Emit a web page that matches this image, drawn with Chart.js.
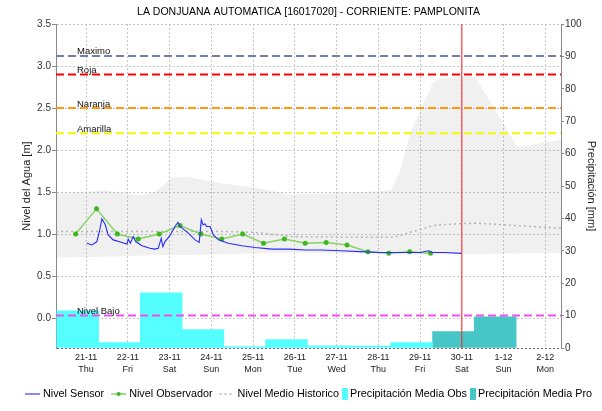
<!DOCTYPE html>
<html>
<head>
<meta charset="utf-8">
<script src="https://cdn.jsdelivr.net/npm/chart.js@4.4.1/dist/chart.umd.min.js"></script>
<style>
  html, body { margin: 0; padding: 0; background: #fff; }
  canvas { display: block; }
</style>
</head>
<body>
<canvas id="chart" width="602" height="411"></canvas>
<script>
// x axis is in days, 0 = 21-11 00:00
const DATES = ['21-11', '22-11', '23-11', '24-11', '25-11', '26-11', '27-11', '28-11', '29-11', '30-11', '1-12', '2-12'];
const WEEKDAYS = ['Thu', 'Fri', 'Sat', 'Sun', 'Mon', 'Tue', 'Wed', 'Thu', 'Fri', 'Sat', 'Sun', 'Mon'];
const LEVEL_TICKS = [0, 0.5, 1, 1.5, 2, 2.5, 3, 3.5];

// Nivel Sensor [m]
const SENSOR_T = [0.02, 0.14, 0.26, 0.32, 0.38, 0.46, 0.53, 0.65, 0.86, 0.98,
  1.01, 1.06, 1.13, 1.19, 1.34, 1.53, 1.65, 1.73, 1.80, 1.84,
  1.89, 2.01, 2.13, 2.20, 2.25, 2.45, 2.61, 2.71, 2.76, 2.80,
  2.85, 2.89, 2.97, 3.05, 3.17, 3.41, 3.73, 4.05, 4.45, 4.85,
  5.25, 5.61, 6.09, 6.57, 7.05, 7.52, 8.00, 8.20, 8.29, 8.60, 8.99];
const SENSOR_M = [0.89, 0.87, 0.91, 1.03, 1.18, 1.11, 0.99, 0.93, 0.90, 0.88,
  0.94, 0.89, 0.97, 0.91, 0.86, 0.83, 0.82, 0.83, 0.95, 0.85,
  0.91, 0.98, 1.09, 1.14, 1.09, 1.01, 0.93, 0.90, 1.17, 1.11,
  1.12, 1.09, 1.09, 0.99, 0.93, 0.89, 0.86, 0.84, 0.82, 0.82,
  0.81, 0.81, 0.80, 0.79, 0.78, 0.78, 0.78, 0.80, 0.78, 0.78, 0.77];

// Nivel Observador [m], two readings a day
const OBS_T = [-0.25, 0.25, 0.75, 1.25, 1.75, 2.25, 2.75, 3.25, 3.75, 4.25, 4.75, 5.25, 5.75, 6.25, 6.75, 7.25, 7.75, 8.25];
const OBS_M = [1.00, 1.30, 1.00, 0.94, 1.00, 1.10, 1.00, 0.94, 1.00, 0.89, 0.94, 0.89, 0.90, 0.87, 0.79, 0.77, 0.79, 0.77];

// historical band and mean [m]
const HIST_T = [-0.72, 0.45, 1.25, 1.65, 2.06, 2.44, 3.26, 4.05, 4.9, 6.33, 7.3, 7.52, 7.76, 8.32, 8.48, 9.32, 10.33, 11.375];
const HIST_MAX = [1.48, 1.52, 1.46, 1.50, 1.67, 1.68, 1.60, 1.55, 1.47, 1.49, 1.52, 1.75, 2.20, 2.81, 2.85, 2.87, 2.04, 2.12];
const HIST_MIN = [0.72, 0.73, 0.74, 0.75, 0.75, 0.75, 0.76, 0.77, 0.78, 0.77, 0.76, 0.76, 0.76, 0.76, 0.76, 0.76, 0.77, 0.77];
const HIST_MEAN = [1.03, 1.03, 1.03, 1.03, 1.03, 1.03, 1.03, 1.02, 0.97, 0.96, 0.96, 0.98, 1.02, 1.10, 1.11, 1.13, 1.10, 1.07];

// daily rain [mm], bar centred on the 07:00-07:00 period
const RAIN_OBS_T = [-0.2, 0.8, 1.8, 2.8, 3.8, 4.8, 5.8, 6.8, 7.8];
const RAIN_OBS_MM = [11.5, 1.7, 17.0, 5.7, 0.4, 2.6, 0.7, 0.6, 1.7];
const RAIN_PRO_T = [8.8, 9.8];
const RAIN_PRO_MM = [5.1, 9.6];

// alert levels [m]
const LEVEL_NAMES = ['Maximo', 'Roja', 'Naranja', 'Amarilla', 'Nivel Bajo'];
const LEVEL_VALUES = [3.12, 2.90, 2.50, 2.20, 0.03];
const LEVEL_COLORS = ['#7080a8', '#ff0000', '#ff9a10', '#f8f800', '#f050f0'];

const NOW_DAY = 9;

const X_MIN = -0.72, X_MAX = 11.375;
const Y_MIN = -0.357, Y_MAX = 3.5;

const FONT = '"Liberation Sans", Arial, sans-serif';
Chart.defaults.font.family = FONT;
Chart.defaults.color = '#222';

const pts = (xs, ys) => xs.map((x, i) => ({ x: x, y: ys[i] }));

const levelSets = LEVEL_NAMES.map((name, i) => ({
  type: 'line',
  levelName: name,
  data: [{ x: X_MIN, y: LEVEL_VALUES[i] }, { x: X_MAX, y: LEVEL_VALUES[i] }],
  yAxisID: 'y',
  borderColor: LEVEL_COLORS[i],
  borderWidth: 2,
  borderDash: [8, 4],
  pointRadius: 0,
  order: 0
}));

const levelLabels = {
  id: 'levelLabels',
  afterDatasetsDraw(chart) {
    const { ctx, chartArea, scales } = chart;
    ctx.save();
    ctx.font = '9.5px ' + FONT;
    ctx.fillStyle = '#111';
    ctx.textBaseline = 'alphabetic';
    chart.data.datasets.forEach(d => {
      if (!d.levelName) return;
      const y = scales.y.getPixelForValue(d.data[0].y);
      ctx.fillText(d.levelName, chartArea.left + 21, y - 1.5);
    });
    ctx.restore();
  }
};

// legend drawn under the axis, centred on the plot
const bottomLegend = {
  id: 'bottomLegend',
  afterDraw(chart) {
    const ctx = chart.ctx;
    const items = chart.data.datasets.filter(d => d.legendKind);
    ctx.save();
    ctx.font = '10.8px ' + FONT;
    ctx.textBaseline = 'middle';
    const parts = items.map(d => {
      const box = d.legendKind === 'box';
      return { d: d, box: box, sample: box ? 6 : 15, gap: box ? 2 : 3, lead: box ? 3 : 7, w: ctx.measureText(d.label).width };
    });
    const total = parts.reduce((s, p, i) => s + (i ? p.lead : 0) + p.sample + p.gap + p.w, 0);
    let x = (chart.chartArea.left + chart.chartArea.right) / 2 - total / 2;
    const y = 394;
    parts.forEach((p, i) => {
      if (i) x += p.lead;
      const d = p.d;
      if (p.box) {
        ctx.fillStyle = d.backgroundColor;
        ctx.fillRect(x, y - 6, p.sample, 12);
      } else {
        ctx.strokeStyle = d.borderColor;
        ctx.lineWidth = d.borderWidth;
        ctx.setLineDash(d.borderDash || []);
        ctx.beginPath();
        ctx.moveTo(x, y);
        ctx.lineTo(x + p.sample, y);
        ctx.stroke();
        ctx.setLineDash([]);
        if (d.pointRadius) {
          ctx.fillStyle = d.pointBackgroundColor;
          ctx.beginPath();
          ctx.arc(x + p.sample / 2, y, 2, 0, Math.PI * 2);
          ctx.fill();
        }
      }
      x += p.sample + p.gap;
      ctx.fillStyle = '#000';
      ctx.fillText(d.label, x, y);
      x += p.w;
    });
    ctx.restore();
  }
};

new Chart(document.getElementById('chart'), {
  type: 'line',
  data: {
    datasets: [
      {
        label: 'Nivel Sensor', legendKind: 'line',
        data: pts(SENSOR_T, SENSOR_M), yAxisID: 'y',
        borderColor: '#2a2aff', borderWidth: 1.1, pointRadius: 0, order: 1
      },
      {
        label: 'Nivel Observador', legendKind: 'line',
        data: pts(OBS_T, OBS_M), yAxisID: 'y',
        borderColor: '#86d466', borderWidth: 1.5,
        pointRadius: 2.5, pointBackgroundColor: '#3cb81e', pointBorderWidth: 0, order: 2
      },
      {
        label: 'Nivel Medio Historico', legendKind: 'line',
        data: pts(HIST_T, HIST_MEAN), yAxisID: 'y',
        borderColor: '#b4b4b4', borderWidth: 1.5, borderDash: [2, 3], pointRadius: 0, order: 3
      },
      {
        data: pts(HIST_T, HIST_MAX), yAxisID: 'y',
        borderColor: 'transparent', borderWidth: 1, pointRadius: 0,
        fill: '+1', backgroundColor: 'rgba(128,128,128,0.12)', order: 6
      },
      {
        data: pts(HIST_T, HIST_MIN), yAxisID: 'y',
        borderColor: 'transparent', borderWidth: 1, pointRadius: 0, fill: false, order: 6
      },
      {
        type: 'bar', label: 'Precipitación Media Obs', legendKind: 'box',
        data: pts(RAIN_OBS_T, RAIN_OBS_MM), yAxisID: 'y1',
        backgroundColor: '#55ffff', borderWidth: 0,
        grouped: false, barPercentage: 1, categoryPercentage: 1, order: 5
      },
      {
        type: 'bar', label: 'Precipitación Media Pro', legendKind: 'box',
        data: pts(RAIN_PRO_T, RAIN_PRO_MM), yAxisID: 'y1',
        backgroundColor: '#46c6c6', borderWidth: 0,
        grouped: false, barPercentage: 1, categoryPercentage: 1, order: 5
      },
      ...levelSets,
      {
        data: [{ x: NOW_DAY, y: Y_MIN }, { x: NOW_DAY, y: Y_MAX }], yAxisID: 'y',
        borderColor: '#ff2020', borderWidth: 1, pointRadius: 0, order: 0
      }
    ]
  },
  options: {
    responsive: false,
    animation: false,
    devicePixelRatio: 1,
    layout: { padding: 0 },
    plugins: {
      legend: { display: false },
      tooltip: { enabled: false },
      title: {
        display: true,
        fullSize: false,
        text: 'LA DONJUANA AUTOMATICA [16017020] - CORRIENTE: PAMPLONITA',
        color: '#000',
        font: { size: 10.5, weight: 'normal' },
        padding: { top: 6, bottom: 5.4 }
      }
    },
    scales: {
      x: {
        type: 'linear',
        min: X_MIN, max: X_MAX,
        offset: false,
        afterBuildTicks: s => { s.ticks = DATES.map((_, i) => ({ value: i })); },
        afterFit: s => { s.height = 63; },
        ticks: {
          autoSkip: false, maxRotation: 0,
          padding: 3,
          color: '#222',
          font: { size: 9, lineHeight: 1.4 },
          callback: (v, i) => [DATES[i], WEEKDAYS[i]]
        },
        grid: { color: '#c8c8c8', drawTicks: false, offset: false },
        border: { display: false, dash: [2, 2] }
      },
      y: {
        type: 'linear',
        position: 'left',
        min: Y_MIN, max: Y_MAX,
        afterBuildTicks: s => { s.ticks = [Y_MIN, ...LEVEL_TICKS].map(v => ({ value: v })); },
        afterFit: s => { s.width = 56; },
        ticks: {
          padding: 1,
          color: '#333',
          font: { size: 10 },
          callback: v => (v < -0.1 ? '' : v.toFixed(1))
        },
        grid: {
          color: ctx => (ctx.tick && ctx.tick.value < -0.1 ? '#666' : '#c4c4c4'),
          tickColor: ctx => (ctx.tick && ctx.tick.value < -0.1 ? 'rgba(0,0,0,0)' : '#888'),
          tickLength: 4
        },
        border: { color: '#888', dash: [2, 2] },
        title: {
          display: true,
          text: 'Nivel del Agua [m]',
          color: '#222',
          font: { size: 11 },
          padding: { top: 20, bottom: 0 }
        }
      },
      y1: {
        type: 'linear',
        position: 'right',
        min: 0, max: 100,
        afterFit: s => { s.width = 41; },
        ticks: { stepSize: 10, padding: 1, color: '#333', font: { size: 10 } },
        grid: { drawOnChartArea: false, color: '#888', tickLength: 3 },
        border: { color: '#888' },
        title: {
          display: true,
          text: 'Precipitación [mm]',
          color: '#222',
          font: { size: 11 },
          padding: { top: 4.4, bottom: 0 }
        }
      }
    }
  },
  plugins: [levelLabels, bottomLegend]
});
</script>
</body>
</html>
